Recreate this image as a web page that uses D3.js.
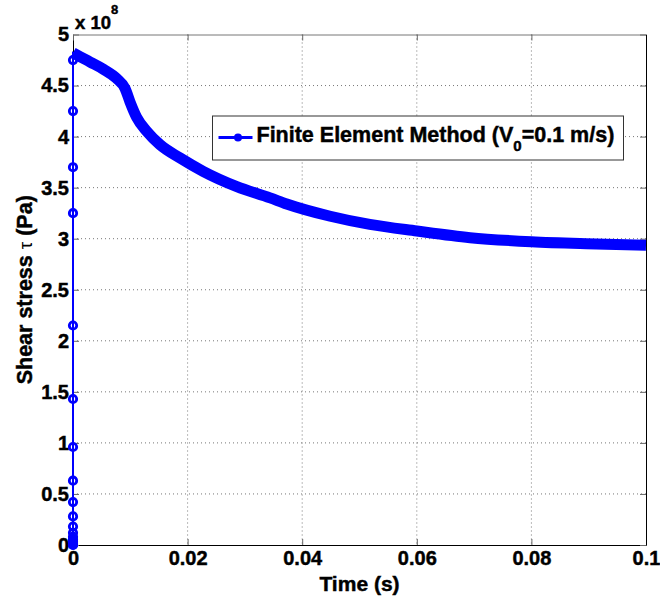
<!DOCTYPE html>
<html>
<head>
<meta charset="utf-8">
<script src="https://cdn.jsdelivr.net/npm/d3@7"></script>
<style>
  body { margin: 0; background: #fff; }
  text { font-family: "Liberation Sans", Arial, sans-serif; font-weight: bold; fill: #000; stroke: #000; stroke-width: 0.45px; }
</style>
</head>
<body>
<div id="chart-area"></div>
<script>

// values (stress in units of 1e8 Pa)
let rampStress = [0, 0.004, 0.01, 0.02, 0.035, 0.055, 0.08, 0.12, 0.18, 0.28, 0.42, 0.63, 0.96, 1.43, 2.15, 3.25, 3.70, 4.25, 4.75];
let curveTime = [0, 0.00065, 0.003, 0.0053, 0.0076, 0.0091, 0.00995, 0.0111, 0.0129, 0.0152, 0.0187, 0.0227, 0.0286, 0.0344, 0.0373, 0.0449, 0.0518, 0.06, 0.0693, 0.08, 0.0896, 0.1];
let curveStress = [4.82, 4.80, 4.73, 4.66, 4.57, 4.47, 4.34, 4.19, 4.05, 3.92, 3.79, 3.66, 3.51, 3.40, 3.34, 3.22, 3.14, 3.075, 3.01, 2.97, 2.95, 2.935];

let xTicks = [0, 0.02, 0.04, 0.06, 0.08, 0.1];
let xTickLabels = ["0", "0.02", "0.04", "0.06", "0.08", "0.1"];
let yTicks = [0, 0.5, 1, 1.5, 2, 2.5, 3, 3.5, 4, 4.5, 5];
let yTickLabels = ["0", "0.5", "1", "1.5", "2", "2.5", "3", "3.5", "4", "4.5", "5"];

let margin = {top: 34.5, right: 14, bottom: 58, left: 73};
let width = 660 - margin.left - margin.right;
let height = 603 - margin.top - margin.bottom;

let svg = d3.select("#chart-area").append("svg")
    .attr("width", 660)
    .attr("height", 603)
  .append("g")
    .attr("transform", "translate(" + margin.left + "," + margin.top + ")");

let x = d3.scaleLinear().domain([0, 0.1]).range([0, width]);
let y = d3.scaleLinear().domain([0, 5]).range([height, 0]);

let blue = "#0000ff";

// grid (dotted)
svg.selectAll(".gx").data(xTicks.slice(1, -1)).enter().append("line")
    .attr("x1", d => x(d)).attr("x2", d => x(d))
    .attr("y1", 0).attr("y2", height)
    .attr("stroke", "#777").attr("stroke-width", 1).attr("stroke-dasharray", "1,3");
svg.selectAll(".gy").data(yTicks.slice(1, -1)).enter().append("line")
    .attr("x1", 0).attr("x2", width)
    .attr("y1", d => y(d)).attr("y2", d => y(d))
    .attr("stroke", "#777").attr("stroke-width", 1).attr("stroke-dasharray", "1,3");

// axes with inward ticks
let xAxis = d3.axisBottom(x).tickValues(xTicks).tickSizeInner(-6).tickSizeOuter(0).tickFormat((d, i) => xTickLabels[i]);
let yAxis = d3.axisLeft(y).tickValues(yTicks).tickSizeInner(-6).tickSizeOuter(0).tickFormat((d, i) => yTickLabels[i]);

let gx = svg.append("g").attr("transform", "translate(0," + height + ")").call(xAxis);
let gy = svg.append("g").call(yAxis);
let gxTop = svg.append("g").call(d3.axisTop(x).tickValues(xTicks).tickSizeInner(-6).tickSizeOuter(0).tickFormat(""));
let gyRight = svg.append("g").attr("transform", "translate(" + width + ",0)")
    .call(d3.axisRight(y).tickValues(yTicks).tickSizeInner(-6).tickSizeOuter(0).tickFormat(""));

[gx, gy, gxTop, gyRight].forEach(g => {
  g.select(".domain").attr("stroke", "#000");
  g.selectAll(".tick line").attr("stroke", "#666");
});
gxTop.select(".domain").attr("stroke", "#777");
[gx, gy].forEach(g => g.selectAll(".tick text")
    .attr("font-size", 20).attr("font-family", "Liberation Sans, Arial").attr("font-weight", "bold")
    .attr("stroke", "#000").attr("stroke-width", 0.5));
gx.selectAll(".tick text").attr("dy", "0.85em");
gy.selectAll(".tick text").attr("x", -4);

// multiplier
let mult = svg.append("text").attr("x", 2).attr("y", -6).attr("font-size", 18.5);
mult.append("tspan").text("x 10");
mult.append("tspan").attr("font-size", 13).attr("dy", -15).text("8");

// thin line through every point
let allTime = rampStress.map(() => 0).concat(curveTime);
let allStress = rampStress.concat(curveStress);
let line = d3.line().x(d => x(d[0])).y(d => y(d[1]));
svg.append("path")
    .datum(allTime.map((t, i) => [t, allStress[i]]))
    .attr("d", line)
    .attr("fill", "none").attr("stroke", blue).attr("stroke-width", 2);

// dense markers merge into a thick band
let band = d3.line().curve(d3.curveMonotoneX).x(d => x(d[0])).y(d => y(d[1]));
svg.append("path")
    .datum(curveTime.map((t, i) => [t, curveStress[i]]))
    .attr("d", band)
    .attr("fill", "none").attr("stroke", blue).attr("stroke-width", 11)
    .attr("stroke-linejoin", "round");

// markers on the initial ramp
svg.selectAll(".mk").data(rampStress).enter().append("circle")
    .attr("cx", x(0)).attr("cy", d => y(d)).attr("r", 3.7)
    .attr("fill", "none").attr("stroke", blue).attr("stroke-width", 2.8);

// axis labels
svg.append("text").attr("x", width / 2).attr("y", height + 46)
    .attr("text-anchor", "middle").attr("font-size", 21).text("Time (s)");
let yl = svg.append("text")
    .attr("transform", "translate(-41," + height / 2 + ") rotate(-90)")
    .attr("text-anchor", "middle").attr("font-size", 21.5);
yl.append("tspan").text("Shear stress ");
yl.append("tspan").attr("font-weight", "normal").attr("stroke-width", 0).attr("font-size", 19).text("τ");
yl.append("tspan").text(" (Pa)");

// legend
let lg = svg.append("g").attr("transform", "translate(" + (212.5 - margin.left) + "," + (116 - margin.top) + ")");
lg.append("rect").attr("width", 411).attr("height", 44)
    .attr("fill", "#fff").attr("stroke", "#333").attr("stroke-width", 1);
lg.append("line").attr("x1", 6).attr("x2", 40).attr("y1", 21.5).attr("y2", 21.5)
    .attr("stroke", blue).attr("stroke-width", 3);
lg.append("circle").attr("cx", 25.5).attr("cy", 21.5).attr("r", 4).attr("fill", blue);
let lt = lg.append("text").attr("x", 44).attr("y", 26).attr("font-size", 21.5);
lt.append("tspan").text("Finite Element Method (V");
lt.append("tspan").attr("font-size", 15).attr("dy", 9).text("0");
lt.append("tspan").attr("dy", -9).text("=0.1 m/s)");

</script>
</body>
</html>
